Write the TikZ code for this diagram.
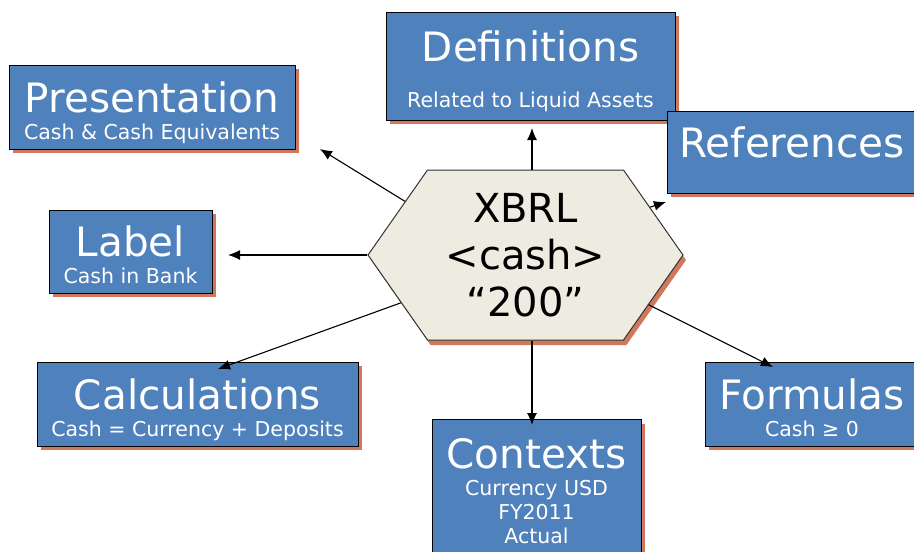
\documentclass[tikz,border=0pt]{standalone}
\usepackage{fontspec}
\setmainfont{DejaVu Sans}
\usetikzlibrary{shapes.symbols,shadows,arrows.meta,positioning}
\definecolor{boxblue}{RGB}{79,129,189}
\definecolor{shadeorange}{RGB}{208,120,92}
\definecolor{hexbeige}{RGB}{238,236,225}
\newcommand{\boxhead}[1]{{\fontsize{40.5}{27}\selectfont\rule{0pt}{42pt}#1}}
\newcommand{\boxend}{\rule[-5pt]{0pt}{5pt}}
\tikzset{
	infobox/.style={draw=black, line width=1pt, fill=boxblue, text=white, align=center, inner sep=0pt,
		font=\fontsize{20.5}{27}\selectfont,
		drop shadow={shadow xshift=4pt, shadow yshift=-4pt, fill=shadeorange, opacity=1}},
	hexnode/.style={signal, signal to=east and west, signal pointer angle=110, draw=black!80, line width=1pt,
		fill=hexbeige, inner sep=0pt, minimum width=315pt, minimum height=170pt, align=center,
		font=\fontsize{40}{47}\selectfont,
		drop shadow={shadow xshift=3pt, shadow yshift=-5pt, fill=shadeorange, opacity=1}},
	link/.style={-{Latex[length=12pt,width=10pt]}, line width=1.1pt}
}

\begin{document}
\begin{tikzpicture}[x=1pt,y=-1pt]
		\useasboundingbox (0,0) rectangle (914,552);
		\clip (0,0) rectangle (914,552);
		% centre
		\node[hexnode] (xbrl) at (525.5,255) {XBRL\\<cash>\\“200”};
		% boxes round it
		\node[infobox, minimum width=286pt, minimum height=84pt] (pres) at (152,107)
			{\boxhead{Presentation}\\Cash \& Cash Equivalents\boxend};
		\node[infobox, minimum width=289pt, minimum height=108pt] (def) at (530.5,66)
			{\boxhead{Definitions}\\[19pt]Related to Liquid Assets\boxend};
		\node[infobox, minimum width=250pt, minimum height=82pt] (ref) at (792,152)
			{\boxhead{References}\\\boxend};
		\node[infobox, minimum width=163pt, minimum height=83pt] (lab) at (130.5,251.5)
			{\boxhead{Label}\\Cash in Bank\boxend};
		\node[infobox, minimum width=321pt, minimum height=84pt] (calc) at (197.5,404)
			{\boxhead{Calculations}\\Cash = Currency + Deposits\boxend};
		\node[infobox, minimum width=209pt, minimum height=135pt] (ctx) at (536.5,487)
			{\boxhead{Contexts}\\Currency USD\\[-3pt]FY2011\\[-3pt]Actual\boxend};
		\node[infobox, minimum width=214pt, minimum height=84pt] (form) at (812,404)
			{\boxhead{Formulas}\\Cash ≥ 0\boxend};
		% arrow tips
		\coordinate (tpres) at (320,149);
		\coordinate (tdef) at (532,128);
		\coordinate (tref) at (666,202);
		\coordinate (tlab) at (228,255);
		\coordinate (tcalc) at (218,369);
		\coordinate (tctx) at (532,425);
		\coordinate (tform) at (773,367);
		\draw[link] (xbrl.156) -- (tpres);
		\draw[link] (xbrl.north -| tdef) -- (tdef);
		\draw[link] (xbrl.21) -- (tref);
		\draw[link] (xbrl.west) -- (tlab);
		\draw[link] (xbrl.201) -- (tcalc);
		\draw[link] (xbrl.south -| tctx) -- (tctx);
		\draw[link] (xbrl.338) -- (tform);
\end{tikzpicture}
\end{document}
